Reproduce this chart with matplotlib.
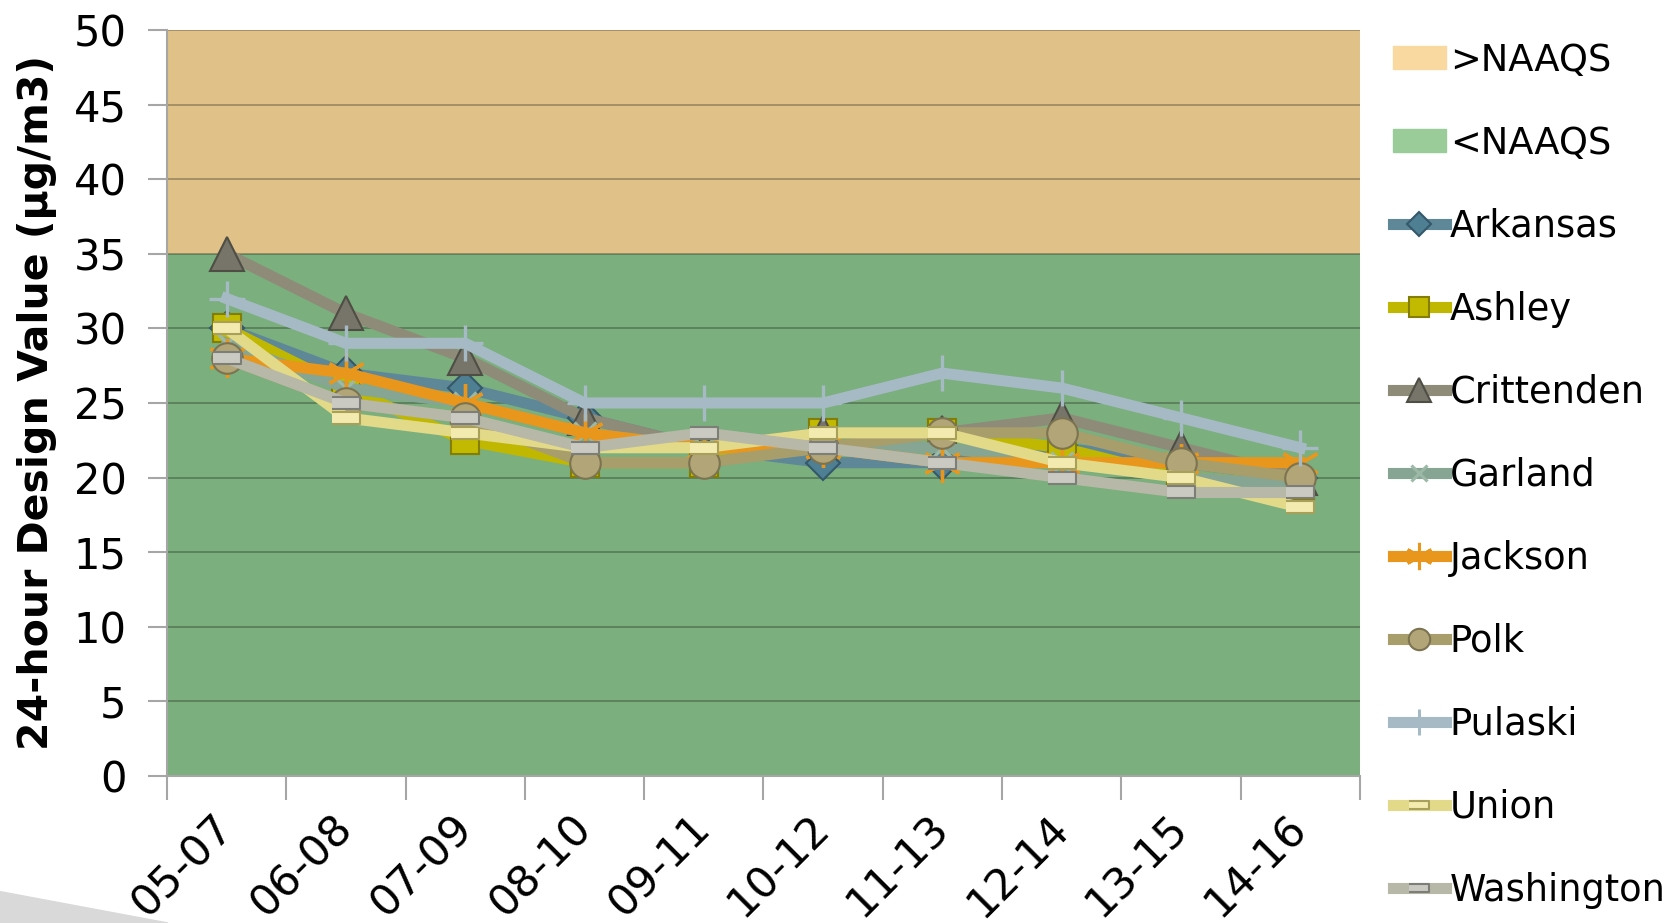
import matplotlib.pyplot as plt
from matplotlib import font_manager
from matplotlib.patches import Patch, Polygon
from matplotlib.lines import Line2D

# design value periods
periods = ['05-07', '06-08', '07-09', '08-10', '09-11', '10-12', '11-13', '12-14', '13-15', '14-16']

# 24-hour design values by county (ug/m3)
arkansas = [30, 27, 26, 24, 22, 21, 21, 22, 21, 20]
ashley = [30, 26, 22.5, 21, 21, 23, 23, 22, 20, 19.5]
crittenden = [35, 31, 28, 24, 22, 23, 23, 24, 22, 20]
garland = [29, 26, 25, 23, 22, 22, 22, 21, 20, 19.5]
jackson = [28, 27, 25, 23, 22, 22, 21, 21, 21, 21]
polk = [28, 25, 24, 21, 21, 22, 23, 23, 21, 20]
pulaski = [32, 29, 29, 25, 25, 25, 27, 26, 24, 22]
union = [30, 24, 23, 22, 22, 23, 23, 21, 20, 18]
washington = [28, 25, 24, 22, 23, 22, 21, 20, 19, 19]

naaqs = 35
y_max = 50
y_ticks = [0, 5, 10, 15, 20, 25, 30, 35, 40, 45, 50]

rect = [(-1, -0.42), (1, -0.42), (1, 0.42), (-1, 0.42)]

# name, values, line color, marker, marker face, marker edge, marker size
series = [
    ('Arkansas', arkansas, '#5E8798', 'D', '#4F7F93', '#34586A', 17),
    ('Ashley', ashley, '#C0B800', 's', '#C2BA00', '#847E00', 20),
    ('Crittenden', crittenden, '#8E8B78', '^', '#77756A', '#4F4E44', 24),
    ('Garland', garland, '#86A592', 'x', '#9CB8A6', '#9CB8A6', 16),
    ('Jackson', jackson, '#E8961C', (6, 2, 0), '#E8961C', '#E8961C', 28),
    ('Polk', polk, '#A89E6C', 'o', '#B2A679', '#7C7350', 22),
    ('Pulaski', pulaski, '#A5BAC4', '+', '#A5BAC4', '#A5BAC4', 26),
    ('Union', union, '#E2DA88', rect, '#F2EAAE', '#A89F58', 20),
    ('Washington', washington, '#B8B8A8', rect, '#CACAC2', '#7E7E78', 20),
]

plt.rcParams['font.family'] = 'DejaVu Sans'

# narrow bold face for the y label if one is there
names = {f.name for f in font_manager.fontManager.ttflist}
if 'Liberation Sans Narrow' in names:
    ylab_font, ylab_size = 'Liberation Sans Narrow', 36
else:
    ylab_font, ylab_size = 'DejaVu Sans', 29.5

fig = plt.figure(figsize=(16.8, 9.23), dpi=100)
ax = fig.add_axes([0.0994, 0.1593, 0.7101, 0.8082])

x = list(range(len(periods)))

ax.axhspan(naaqs, y_max, color='#E0C187', zorder=0)
ax.axhspan(0, naaqs, color='#7BAF7E', zorder=0)

for name, vals, lc, mk, mf, me, ms in series:
    mew = 2.4 if mk in ('x', '+', (6, 2, 0)) else 1.5
    ax.plot(x, vals, color=lc, lw=8, marker=mk, markersize=ms,
            markerfacecolor=mf, markeredgecolor=me, markeredgewidth=mew,
            solid_joinstyle='miter', zorder=3)

ax.set_xlim(-0.5, len(periods) - 0.5)
ax.set_ylim(0, y_max)
ax.set_yticks(y_ticks)
ax.yaxis.grid(True, color='black', alpha=0.3, lw=1.2, zorder=1)
ax.set_axisbelow(True)

# tick marks between categories, labels at category centres
ax.set_xticks([i - 0.5 for i in range(len(periods) + 1)])
ax.set_xticklabels([])
ax.set_xticks(x, minor=True)
ax.set_xticklabels(periods, minor=True, rotation=45, ha='right', va='center',
                   rotation_mode='anchor', fontsize=31)
ax.tick_params(axis='x', which='major', length=17, color='#A6A6A6', width=1.5)
ax.tick_params(axis='x', which='minor', length=0, pad=33)
ax.tick_params(axis='y', length=14, color='#A6A6A6', width=1.5, labelsize=30, pad=15)

for side in ['top', 'right']:
    ax.spines[side].set_visible(False)
for side in ['left', 'bottom']:
    ax.spines[side].set_color('#A6A6A6')
    ax.spines[side].set_linewidth(1.5)

ax.set_ylabel('24-hour Design Value (µg/m3)', fontsize=ylab_size, fontweight='bold',
              family=ylab_font)
ax.yaxis.set_label_coords(-0.092, 0.5)

handles = [Patch(color='#FAD9A0', label='>NAAQS'), Patch(color='#99CC99', label='<NAAQS')]
for name, vals, lc, mk, mf, me, ms in series:
    mew = 2.2 if mk in ('x', '+', (6, 2, 0)) else 1.5
    handles.append(Line2D([], [], color=lc, lw=8, marker=mk, markersize=ms * 0.7,
                          markerfacecolor=mf, markeredgecolor=me,
                          markeredgewidth=mew, label=name))

fig.legend(handles=handles, loc='upper left', bbox_to_anchor=(0.829, 0.955),
           frameon=False, fontsize=26.5, handlelength=1.45, handleheight=0.6,
           handletextpad=0.1, labelspacing=1.25, borderpad=0, borderaxespad=0)

# light grey swoosh in the corner of the slide
fig.patches.append(Polygon([(0, 0), (0, 0.034), (0.1, 0)], closed=True,
                           transform=fig.transFigure, color='#D9D9D9', zorder=0))

fig.savefig('out.png', dpi=100)
